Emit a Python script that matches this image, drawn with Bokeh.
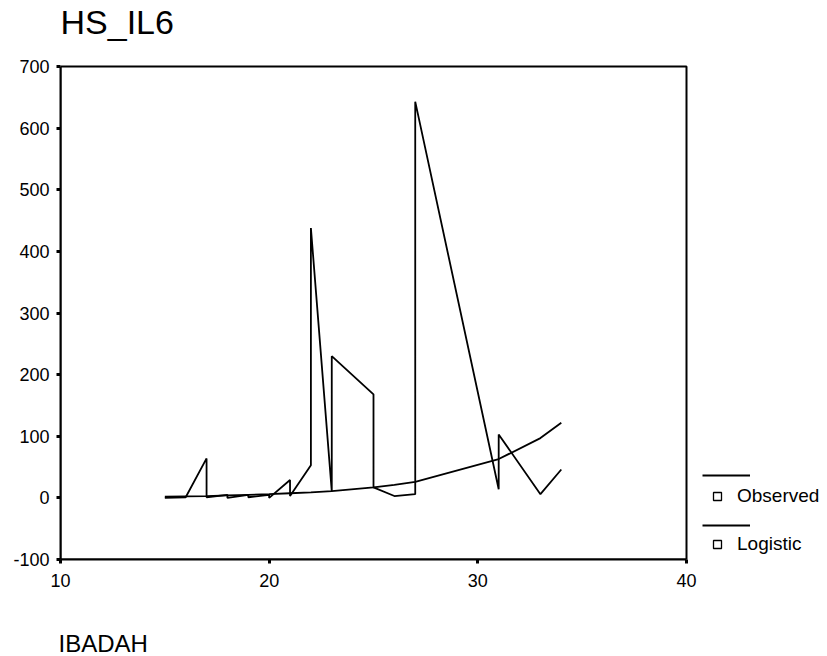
from bokeh.plotting import figure
from bokeh.models import (Range1d, FixedTicker, Legend, LegendItem, Title,
                          BoxAnnotation, Label)
from bokeh.embed import file_html
from bokeh.resources import INLINE

# ---- data ----
title_text = "HS_IL6"
x_label = "IBADAH"
series_names = ["Observed", "Logistic"]

obs_x = [15, 16, 17, 17, 18, 18, 19, 19, 20, 20, 21, 21, 22, 22,
         23, 23, 23, 23, 25, 25, 26, 27, 27, 31, 31, 33, 34]
obs_y = [0, 1, 64, 1, 5, 0, 5, 1, 5, 0, 29, 3, 53, 438,
         11, 106, 11, 230, 168, 17, 3, 6, 643, 14, 103, 6, 46]

fit_x = [15, 16, 17, 18, 19, 20, 21, 22, 23, 25, 26, 27, 31, 33, 34]
fit_y = [2, 2.5, 3, 4, 5, 6, 7.5, 9, 11, 17, 21, 26, 63, 97, 122]

x_ticks = [10, 20, 30, 40]
y_ticks = [-100, 0, 100, 200, 300, 400, 500, 600, 700]
x_lim = (10, 40)
y_lim = (-100, 700)

FONT = "Liberation Sans"

# layout (pixels)
W, H = 827, 656
LEFT, TOP, RIGHT_BOX, BOTTOM = 60, 66, 686, 559
# the frame is widened (right) and raised (top) so that the legend and the
# title can sit in it; the axes box itself stays at x_lim / y_lim
x_view_end = x_lim[1] + (x_lim[1] - x_lim[0]) * (W - RIGHT_BOX) / (RIGHT_BOX - LEFT)
y_view_end = y_lim[1] + (y_lim[1] - y_lim[0]) * TOP / (BOTTOM - TOP)

p = figure(width=W, height=H, output_backend="svg", toolbar_location=None, title=None,
           x_range=Range1d(x_lim[0], x_view_end), y_range=Range1d(y_lim[0], y_view_end),
           min_border_left=LEFT, min_border_right=0,
           min_border_top=0, min_border_bottom=H - BOTTOM)
p.background_fill_color = "white"
p.border_fill_color = "white"
p.grid.visible = False
p.outline_line_color = None

p.xaxis.ticker = FixedTicker(ticks=x_ticks)
p.yaxis.ticker = FixedTicker(ticks=y_ticks)
p.xaxis.bounds = x_lim
p.yaxis.bounds = y_lim
p.yaxis.major_label_overrides = {-100: "-100"}
for ax in (p.xaxis[0], p.yaxis[0]):
    ax.axis_line_color = "black"
    ax.axis_line_width = 2
    ax.major_tick_in = 0
    ax.major_tick_out = 4
    ax.major_tick_line_width = 3
    ax.major_tick_line_color = "black"
    ax.minor_tick_line_color = None
    ax.major_label_text_font = FONT
    ax.major_label_text_color = "black"
    ax.major_label_text_font_size = "18px"
p.yaxis.major_label_standoff = 7
p.xaxis.major_label_standoff = 10
# spacer between the tick labels and the IBADAH caption
p.xaxis.axis_label = " "
p.xaxis.axis_label_text_font_size = "10px"
p.xaxis.axis_label_standoff = 24

# the axes box
p.add_layout(BoxAnnotation(left=x_lim[0], right=x_lim[1], bottom=y_lim[0], top=y_lim[1],
                           fill_alpha=0, line_color="black", line_width=2, line_alpha=1))

# title above the box
p.add_layout(Label(x=x_lim[0], y=y_lim[1], x_offset=0, y_offset=45, text=title_text,
                   text_font=FONT, text_font_size="34px", text_color="black",
                   text_baseline="alphabetic", text_align="left"))

p.add_layout(Title(text=x_label, align="left", text_font=FONT, text_font_size="24px",
                   text_font_style="normal", text_color="black", offset=-2, standoff=0),
             "below")

r_obs = p.line(obs_x, obs_y, line_color="black", line_width=1.8)
r_fit = p.line(fit_x, fit_y, line_color="black", line_width=1.8)

# square swatches for the legend (hidden in the plot itself)
sq_obs = p.scatter(obs_x, obs_y, marker="square", fill_color="white",
                   line_color="black", line_width=1.3, visible=False)
sq_fit = p.scatter(fit_x, fit_y, marker="square", fill_color="white",
                   line_color="black", line_width=1.3, visible=False)

leg_lines = Legend(items=[LegendItem(label=" ", renderers=[r_obs]),
                          LegendItem(label=" ", renderers=[r_fit])],
                   location=(702 - LEFT, BOTTOM - 535), orientation="vertical",
                   glyph_width=48, glyph_height=20, label_height=20, spacing=30,
                   padding=0, margin=0, label_standoff=0,
                   border_line_color=None, background_fill_alpha=0,
                   inactive_fill_alpha=0, click_policy="none",
                   label_text_font_size="1px")
leg_marks = Legend(items=[LegendItem(label=series_names[0], renderers=[sq_obs]),
                          LegendItem(label=series_names[1], renderers=[sq_fit])],
                   location=(707 - LEFT, BOTTOM - 555), orientation="vertical",
                   glyph_width=20, glyph_height=22, label_height=22, spacing=26,
                   padding=0, margin=0, label_standoff=10,
                   border_line_color=None, background_fill_alpha=0,
                   inactive_fill_alpha=0, click_policy="none",
                   label_text_font=FONT, label_text_font_size="19px",
                   label_text_color="black")
p.add_layout(leg_lines, "center")
p.add_layout(leg_marks, "center")

open("out.html", "w").write(file_html(p, INLINE))
